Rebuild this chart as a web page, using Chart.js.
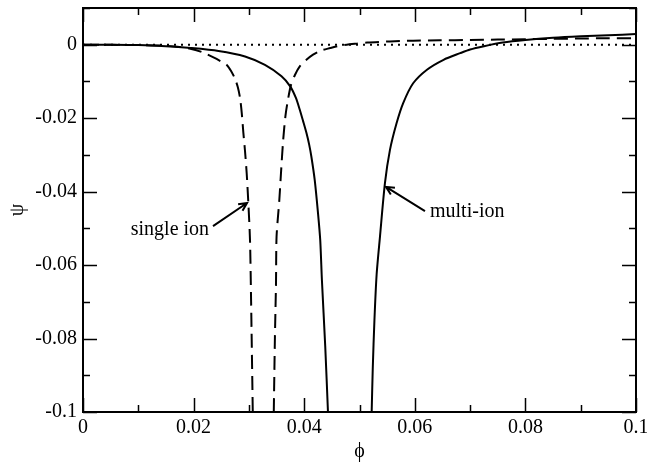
<!DOCTYPE html>
<html>
<head>
<meta charset="utf-8">
<title>psi vs phi</title>
<script src="https://cdn.jsdelivr.net/npm/chart.js@4.4.0/dist/chart.umd.min.js"></script>
<style>
	html, body { margin: 0; padding: 0; background: #fff; }
	#wrap { width: 647px; height: 464px; }
</style>
</head>
<body>
<div id="wrap"><canvas id="psiChart" width="647" height="464"></canvas></div>
<script>
// single ion curve (dashed), null splits the two branches
const singleIonX = [0, 0.005, 0.01, 0.015, 0.0175, 0.0194, 0.0215, 0.0235, 0.0249, 0.026, 0.0268, 0.0275, 0.028, 0.0284, 0.0287, 0.029, 0.0293, 0.0296, 0.0299, 0.0302, 0.0304, 0.0307,
	0.032,
	0.0345, 0.0347, 0.0349, 0.035, 0.0355, 0.0358, 0.0362, 0.0366, 0.037, 0.0376, 0.0383, 0.0392, 0.0404, 0.0416, 0.043, 0.0447, 0.046, 0.0477, 0.0495, 0.0514, 0.0555, 0.0597, 0.0645, 0.07, 0.075, 0.08, 0.085, 0.09, 0.095, 0.1];
const singleIonY = [0, -0.00003, -0.0001, -0.0003, -0.0006, -0.0011, -0.002, -0.0034, -0.0045, -0.0055, -0.0072, -0.0093, -0.0116, -0.0145, -0.0185, -0.024, -0.029, -0.035, -0.0431, -0.0532, -0.07, -0.1,
	null,
	-0.1, -0.08, -0.065, -0.0523, -0.0423, -0.035, -0.0259, -0.0195, -0.0155, -0.011, -0.0083, -0.0059, -0.0041, -0.0027, -0.0016, -0.0009, -0.0004, 0, 0.0003, 0.0006, 0.0009, 0.0011, 0.0012, 0.0013, 0.0014, 0.0015, 0.0016, 0.0017, 0.00175, 0.0018];

// multi-ion curve (solid)
const multiIonX = [0, 0.005, 0.01, 0.015, 0.0195, 0.0245, 0.0293, 0.0329, 0.0359, 0.0375, 0.0385, 0.0392, 0.0398, 0.0404, 0.0409, 0.0413, 0.0419, 0.0425, 0.0429, 0.0432, 0.0438, 0.0443,
	0.048,
	0.0522, 0.0524, 0.0527, 0.0531, 0.0537, 0.0546, 0.0555, 0.0567, 0.0579, 0.0597, 0.0622, 0.0652, 0.0682, 0.07, 0.0725, 0.0759, 0.08, 0.085, 0.09, 0.095, 0.1];
const multiIonY = [0, -0.00002, -0.0001, -0.0004, -0.0009, -0.0017, -0.0032, -0.0055, -0.0086, -0.0114, -0.0145, -0.0177, -0.0208, -0.024, -0.0272, -0.0305, -0.0368, -0.0459, -0.0532, -0.064, -0.082, -0.1,
	null,
	-0.1, -0.088, -0.075, -0.0625, -0.0523, -0.0377, -0.0287, -0.0214, -0.0159, -0.0105, -0.0068, -0.0041, -0.0023, -0.0013, -0.0004, 0.0006, 0.0013, 0.0019, 0.0023, 0.0026, 0.0029];

// zero reference line (dotted)
const zeroX = [0, 0.1];
const zeroY = [0, 0];

// axis ranges and tick labels
const xRange = [0, 0.1];
const yRange = [-0.1, 0.01];
const xTickValues = [0, 0.02, 0.04, 0.06, 0.08, 0.1];
const xTickLabels = ["0", "0.02", "0.04", "0.06", "0.08", "0.1"];
const yTickValues = [-0.1, -0.08, -0.06, -0.04, -0.02, 0];
const yTickLabels = ["-0.1", "-0.08", "-0.06", "-0.04", "-0.02", "0"];

// annotations: text anchor and arrow tail -> head, in data units
const annotations = [
	{ text: "single ion", textAt: [0.0228, -0.0505], align: "right", tail: [0.02351, -0.0494], head: [0.02966, -0.0431] },
	{ text: "multi-ion", textAt: [0.06275, -0.0456], align: "left", tail: [0.06184, -0.0453], head: [0.05479, -0.0387] },
];

function toPoints(xs, ys) {
	return xs.map((x, i) => ({ x: x, y: ys[i] }));
}

function tickLabel(value, values, labels) {
	for (let i = 0; i < values.length; i++) {
		if (Math.abs(value - values[i]) < 1e-9) return labels[i];
	}
	return "";
}

const serif = "'Liberation Serif', 'DejaVu Serif', serif";

// frame, inward ticks on all four sides, and the arrow labels
const framePlugin = {
	id: "frame",
	afterDraw(chart) {
		const ctx = chart.ctx;
		const area = chart.chartArea;
		const xs = chart.scales.x;
		const ys = chart.scales.y;
		ctx.save();
		ctx.strokeStyle = "#000";
		ctx.lineWidth = 1.5;
		xs.ticks.forEach((t) => {
			const px = Math.round(xs.getPixelForValue(t.value)) + 0.5;
			const len = tickLabel(t.value, xTickValues, xTickLabels) !== "" ? 14 : 7;
			ctx.beginPath();
			ctx.moveTo(px, area.bottom);
			ctx.lineTo(px, area.bottom - len);
			ctx.moveTo(px, area.top);
			ctx.lineTo(px, area.top + len);
			ctx.stroke();
		});
		ys.ticks.forEach((t) => {
			const py = Math.round(ys.getPixelForValue(t.value)) + 0.5;
			const len = tickLabel(t.value, yTickValues, yTickLabels) !== "" ? 14 : 7;
			ctx.beginPath();
			ctx.moveTo(area.left, py);
			ctx.lineTo(area.left + len, py);
			ctx.moveTo(area.right, py);
			ctx.lineTo(area.right - len, py);
			ctx.stroke();
		});
		ctx.lineWidth = 2;
		ctx.strokeRect(area.left, area.top, area.right - area.left, area.bottom - area.top);

		// arrows and labels
		ctx.font = "20px " + serif;
		ctx.fillStyle = "#000";
		ctx.textBaseline = "middle";
		annotations.forEach((a) => {
			const tx = xs.getPixelForValue(a.textAt[0]);
			const ty = ys.getPixelForValue(a.textAt[1]);
			ctx.textAlign = a.align;
			ctx.fillText(a.text, tx, ty);
			const x0 = xs.getPixelForValue(a.tail[0]);
			const y0 = ys.getPixelForValue(a.tail[1]);
			const x1 = xs.getPixelForValue(a.head[0]);
			const y1 = ys.getPixelForValue(a.head[1]);
			const ang = Math.atan2(y1 - y0, x1 - x0);
			ctx.lineWidth = 2;
			ctx.beginPath();
			ctx.moveTo(x0, y0);
			ctx.lineTo(x1, y1);
			ctx.moveTo(x1 - 9 * Math.cos(ang - 0.45), y1 - 9 * Math.sin(ang - 0.45));
			ctx.lineTo(x1, y1);
			ctx.lineTo(x1 - 9 * Math.cos(ang + 0.45), y1 - 9 * Math.sin(ang + 0.45));
			ctx.stroke();
		});
		ctx.restore();
	},
};

document.addEventListener("DOMContentLoaded", function () {
	const ctx = document.getElementById("psiChart").getContext("2d");

	new Chart(ctx, {
		type: "line",
		data: {
			datasets: [
				{
					label: "zero",
					data: toPoints(zeroX, zeroY),
					borderColor: "#000",
					borderWidth: 2,
					borderDash: [2, 5],
					pointRadius: 0,
				},
				{
					label: "single ion",
					data: toPoints(singleIonX, singleIonY),
					borderColor: "#000",
					borderWidth: 2,
					borderDash: [14, 7],
					pointRadius: 0,
					tension: 0.25,
					spanGaps: false,
				},
				{
					label: "multi-ion",
					data: toPoints(multiIonX, multiIonY),
					borderColor: "#000",
					borderWidth: 2,
					pointRadius: 0,
					tension: 0.25,
					spanGaps: false,
				},
			],
		},
		options: {
			responsive: false,
			animation: false,
			layout: { padding: { top: 8, right: 11, left: 0, bottom: 0 } },
			plugins: {
				legend: { display: false },
				tooltip: { enabled: false },
			},
			scales: {
				x: {
					type: "linear",
					min: xRange[0],
					max: xRange[1],
					grid: { display: false, drawTicks: false },
					border: { display: false },
					ticks: {
						stepSize: 0.01,
						autoSkip: false,
						maxRotation: 0,
						padding: 4,
						color: "#000",
						font: { family: serif, size: 20 },
						callback: (v) => tickLabel(v, xTickValues, xTickLabels),
					},
					title: {
						display: true,
						text: "\u03D5",
						color: "#000",
						font: { family: serif, size: 20 },
						padding: { top: 0, bottom: 0 },
					},
					afterFit: (scale) => {
						scale.height = 52;
						scale.paddingLeft = 0;
						scale.paddingRight = 0;
					},
				},
				y: {
					type: "linear",
					min: yRange[0],
					max: yRange[1],
					grid: { display: false, drawTicks: false },
					border: { display: false },
					ticks: {
						stepSize: 0.01,
						autoSkip: false,
						padding: 6,
						color: "#000",
						font: { family: serif, size: 20 },
						callback: (v) => tickLabel(v, yTickValues, yTickLabels),
					},
					title: {
						display: true,
						text: "ψ",
						color: "#000",
						font: { family: serif, size: 20 },
						padding: { top: 6, bottom: 0 },
					},
					afterFit: (scale) => {
						scale.width = 83;
						scale.paddingTop = 0;
						scale.paddingBottom = 0;
					},
				},
			},
		},
		plugins: [framePlugin],
	});
});
</script>
</body>
</html>
